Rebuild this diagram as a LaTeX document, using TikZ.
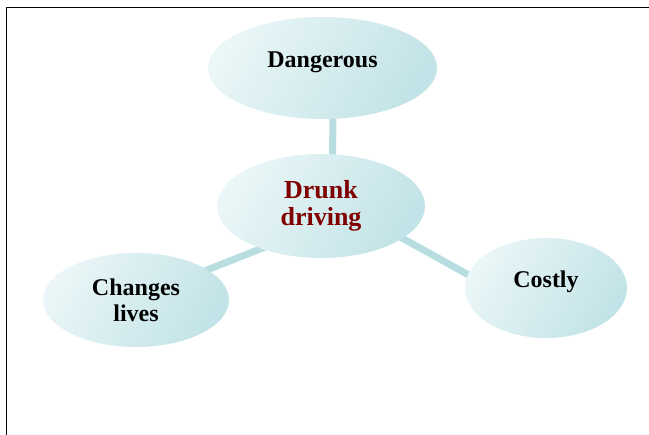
\documentclass[tikz,border=0pt]{standalone}
\usepackage{fontspec}
\setmainfont{Liberation Serif}
\usetikzlibrary{shapes.geometric,backgrounds}
\definecolor{bubblelight}{RGB}{234,246,247}
\definecolor{bubbledark}{RGB}{194,227,231}
\definecolor{linkteal}{RGB}{184,222,226}
\definecolor{darkred}{RGB}{128,0,0}
\tikzset{
  bubble/.style={ellipse, inner sep=0pt, left color=bubblelight, right color=bubbledark,
    shading angle=60, align=center, font=\fontsize{24}{26}\selectfont\bfseries},
  oneline/.style={text height=12pt, text depth=12pt},
  link/.style={linkteal, line width=7pt}
}
\begin{document}
\begin{tikzpicture}[x=1pt, y=-1pt]
  \useasboundingbox (0,0) rectangle (649,435);
  \draw[line width=1.5pt] (6.5,435) -- (6.5,7.5) -- (649,7.5);

  \node[bubble, oneline, minimum width=229pt, minimum height=102pt] (dang) at (322.5,68) {Dangerous};
  \node[bubble, minimum width=208pt, minimum height=104pt, text=darkred,
    font=\fontsize{26}{27}\selectfont\bfseries] (drunk) at (321,206) {Drunk\\driving};
  \node[bubble, minimum width=186pt, minimum height=94pt] (lives) at (136,300) {Changes\\lives};
  \node[bubble, oneline, minimum width=162pt, minimum height=100pt] (cost) at (546,288) {Costly};

  \begin{scope}[on background layer]
    \draw[link] ([xshift=11pt]dang.center) -- ([xshift=11pt]drunk.center);
    \draw[link] ([yshift=-19pt]drunk.center) -- ([yshift=2pt]lives.center);
    \draw[link] ([yshift=13pt]drunk.center) -- ([yshift=-30pt]cost.center);
  \end{scope}
\end{tikzpicture}
\end{document}
